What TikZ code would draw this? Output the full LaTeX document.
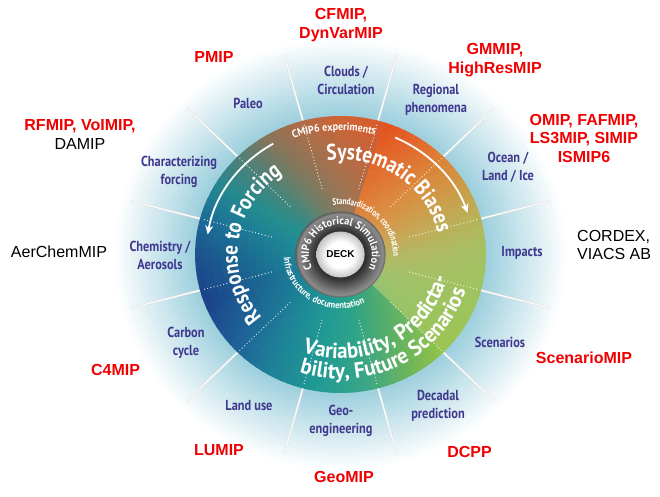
\documentclass[tikz,border=0pt]{standalone}
\usepackage{fontspec}
\setmainfont{Liberation Sans}
\newfontfamily\arialf{Liberation Sans}
\newfontfamily\cond[FakeStretch=0.85]{PT Sans}
\newfontfamily\cpA[FakeStretch=0.75]{PT Sans}
\newfontfamily\cpB[FakeStretch=0.9]{PT Sans}
\newfontfamily\cpC[FakeStretch=0.95]{PT Sans}
\usetikzlibrary{decorations.text,arrows.meta}

\definecolor{halo}{HTML}{9ED0DE}
\definecolor{sectblue}{HTML}{40388F}
\definecolor{mipr}{HTML}{F00000}
\definecolor{grA}{HTML}{2C2C2C}
\definecolor{grB}{HTML}{3A3A3A}
\definecolor{grC}{HTML}{767676}
\definecolor{grD}{HTML}{8C8C8C}
\definecolor{grE}{HTML}{5C5C5C}
\definecolor{dkE}{HTML}{C4C4C4}
% palette: co = edge colour, ci = inner colour
\definecolor{coA}{HTML}{DA5A2C}\definecolor{ciA}{HTML}{A07656}
\definecolor{coB}{HTML}{CE6434}\definecolor{ciB}{HTML}{8E7A5E}
\definecolor{coC}{HTML}{B26C46}\definecolor{ciC}{HTML}{7A7C64}
\definecolor{coD}{HTML}{8A7458}\definecolor{ciD}{HTML}{5C8470}
\definecolor{coE}{HTML}{4E8078}\definecolor{ciE}{HTML}{3A8A82}
\definecolor{coF}{HTML}{248890}\definecolor{ciF}{HTML}{24908E}
\definecolor{coG}{HTML}{1C6C98}\definecolor{ciG}{HTML}{1E8C94}
\definecolor{coH}{HTML}{1C528E}\definecolor{ciH}{HTML}{1C8696}
\definecolor{coI}{HTML}{1B428A}\definecolor{ciI}{HTML}{1C7E96}
\definecolor{coJ}{HTML}{1E5C98}\definecolor{ciJ}{HTML}{1C8496}
\definecolor{coK}{HTML}{1E8098}\definecolor{ciK}{HTML}{1E9096}
\definecolor{coL}{HTML}{209A94}\definecolor{ciL}{HTML}{209A94}
\definecolor{coM}{HTML}{3AA688}\definecolor{ciM}{HTML}{28A28A}
\definecolor{coN}{HTML}{70B658}\definecolor{ciN}{HTML}{3EA67A}
\definecolor{coO}{HTML}{94C448}\definecolor{ciO}{HTML}{4EAA74}
\definecolor{coP}{HTML}{9CC452}\definecolor{ciP}{HTML}{94C474}
\definecolor{coQ}{HTML}{9EC45E}\definecolor{ciQ}{HTML}{A4C06C}
\definecolor{coR}{HTML}{A4C264}\definecolor{ciR}{HTML}{B8B664}
\definecolor{coS}{HTML}{B6B45A}\definecolor{ciS}{HTML}{C8A85A}
\definecolor{coT}{HTML}{CC9C48}\definecolor{ciT}{HTML}{D29C4E}
\definecolor{coU}{HTML}{DC8236}\definecolor{ciU}{HTML}{DA9246}
\definecolor{coV}{HTML}{E4622A}\definecolor{ciV}{HTML}{DC8840}
\definecolor{coW}{HTML}{E4521F}\definecolor{ciW}{HTML}{DE8238}

\pgfdeclareradialshading{greyring}{\pgfpoint{0bp}{0bp}}{color(0bp)=(grA); color(13bp)=(grA); color(15bp)=(grB); color(21bp)=(grC); color(23.5bp)=(grD); color(25bp)=(grE); color(50bp)=(grE)}
\pgfdeclareradialshading{deckdisk}{\pgfpoint{0bp}{0bp}}{color(0bp)=(white); color(14bp)=(white); color(25bp)=(dkE); color(50bp)=(dkE)}

\tikzset{
  arctext/.style n args={3}{decorate, decoration={text along path, text align=center, text color=white, text={|#1\bfseries\fontsize{#2}{#2}\selectfont|#3}}},
  sect/.style={font=\cond\bfseries\fontsize{14.5}{18}\selectfont, text=sectblue, align=center, inner sep=0pt},
  mipred/.style={font=\arialf\bfseries\fontsize{16}{18.5}\selectfont, text=mipr, align=center, inner sep=0pt},
  mipblack/.style={font=\arialf\fontsize{16}{18.5}\selectfont, text=black, align=center, inner sep=0pt},
  outerline/.style={line width=2.2pt, black!12},
  outerlinein/.style={line width=1pt, white},
  dotline/.style={white, line width=1.3pt, line cap=round, dash pattern=on 0pt off 3.3pt, opacity=0.85},
  wheelarrow/.style={white, line width=1.8pt, -{Stealth[length=9pt,width=8pt]}},
}

\begin{document}
\begin{tikzpicture}[x=1pt,y=1pt]
\useasboundingbox (0,0) rectangle (660,496);
\fill[white] (0,0) rectangle (660,496);

\begin{scope}[shift={(340.5,241.5)},xscale=1.05]
  % halo
  \foreach \rr in {217,215,...,139}{
    \pgfmathtruncatemacro\hp{min(100,100*(217-\rr)/76)}
    \fill[halo!\hp!white] (0,0) circle[radius=\rr];
  }
  % outer divider lines
  \foreach \ang in {15,45,...,345}{
    \draw[outerline] (\ang:138) -- (\ang:207);
    \draw[outerlinein] (\ang:138) -- (\ang:207);
  }
  % coloured disk
  \begin{scope}
    \clip (0,0) circle[radius=138.5];
    \foreach \angA/\angB/\colOA/\colOB/\colIA/\colIB in {
      72/90/coA/coB/ciA/ciB, 90/105/coB/coC/ciB/ciC, 105/120/coC/coD/ciC/ciD,
      120/135/coD/coE/ciD/ciE, 135/150/coE/coF/ciE/ciF, 150/165/coF/coG/ciF/ciG,
      165/180/coG/coH/ciG/ciH, 180/200/coH/coI/ciH/ciI, 200/220/coI/coJ/ciI/ciJ,
      220/240/coJ/coK/ciJ/ciK, 240/260/coK/coL/ciK/ciL, 260/280/coL/coM/ciL/ciM,
      280/300/coM/coN/ciM/ciN, 300/315/coN/coO/ciN/ciO,
      315/340/coP/coQ/ciP/ciQ, 340/360/coQ/coR/ciQ/ciR, 360/375/coR/coS/ciR/ciS,
      375/390/coS/coT/ciS/ciT, 390/405/coT/coU/ciT/ciU, 405/420/coU/coV/ciU/ciV,
      420/432/coV/coW/ciV/ciW}{
      \pgfmathtruncatemacro\wN{max(1,round((\angB-\angA)/3))}
      \foreach \jj in {1,...,\wN}{
        \pgfmathtruncatemacro\wP{round(100*(\jj-0.5)/\wN)}
        \pgfmathsetmacro\wS{\angA+(\jj-1)*(\angB-\angA)/\wN}
        \pgfmathsetmacro\wE{\angA+\jj*(\angB-\angA)/\wN+0.5}
        \colorlet{wo}{\colOB!\wP!\colOA}
        \colorlet{wi}{\colIB!\wP!\colIA}
        \foreach \kk in {0,...,11}{
          \pgfmathtruncatemacro\bandpct{round(100*\kk/11)}
          \pgfmathsetmacro\rA{40+\kk*8.25}
          \pgfmathsetmacro\rB{\rA+8.8}
          \fill[wo!\bandpct!wi] (\wS:\rA) arc[start angle=\wS,end angle=\wE,radius=\rA]
            -- (\wE:\rB) arc[start angle=\wE,end angle=\wS,radius=\rB] -- cycle;
        }
      }
    }
  \end{scope}
  % dotted dividers inside the disk
  \foreach \ang in {15,45,...,345}{
    \draw[dotline] (\ang:68) -- (\ang:136);
  }
  % grey centre
  \shade[shading=greyring] (0,0) circle[radius=43];
  \shade[shading=deckdisk] (0,0) circle[radius=23];
  \node[font=\arialf\bfseries\fontsize{10}{10}\selectfont] (deck) at (0,0) {DECK};
  % curved texts
  \path[arctext={\cpB}{11}{CMIP6 experiments}] (153:124) arc[start angle=153,end angle=33,radius=124];
  \path[arctext={\cond}{22.5}{Systematic Biases}] (135:95) arc[start angle=135,end angle=-26,radius=95];
  \path[arctext={\cond}{22.5}{Response to Forcing}] (253:98) arc[start angle=253,end angle=92,radius=98];
  \path[arctext={\cpC}{22}{Variability, Predicta-}] (219:104) arc[start angle=219,end angle=379,radius=104];
  \path[arctext={\cpC}{22}{bility, Future Scenarios}] (218:124.5) arc[start angle=218,end angle=378,radius=124.5];
  \path[arctext={\cpA}{9.5}{Standardization, coordination}] (147.5:50) arc[start angle=147.5,end angle=-52.5,radius=50];
  \path[arctext={\cpB}{9.5}{Infrastructure, documentation}] (139:54) arc[start angle=139,end angle=339,radius=54];
  \path[arctext={\cpC}{11}{CMIP6 Historical Simulation}] (240:30) arc[start angle=240,end angle=-60,radius=30];
  % arrows
  \draw[wheelarrow] (120:128) arc[start angle=120,end angle=171,radius=128];
  \draw[wheelarrow] (66:128) arc[start angle=66,end angle=19,radius=128];
\end{scope}

% sector labels
\node[sect] (clouds) at (346,416) {Clouds /\\Circulation};
\node[sect] (regional) at (436,396) {Regional\\phenomena};
\node[sect] (ocean) at (508,329) {Ocean /\\Land / Ice};
\node[sect] (impacts) at (522,243) {Impacts};
\node[sect] (scen) at (500,154) {Scenarios};
\node[sect] (decadal) at (438,90.5) {Decadal\\prediction};
\node[sect] (geo) at (341,75) {Geo-\\engineering};
\node[sect] (landuse) at (249,90) {Land use};
\node[sect] (carbon) at (186,153) {Carbon\\cycle};
\node[sect] (chem) at (160,241) {Chemistry /\\Aerosols};
\node[sect] (charact) at (179,324) {Characterizing\\forcing};
\node[sect] (paleo) at (248,392.5) {Paleo};

% MIP labels
\node[mipred] (cfmip) at (341,471) {CFMIP,\\DynVarMIP};
\node[mipred] (pmip) at (214,439.5) {PMIP};
\node[mipred] (gmmip) at (495,436) {GMMIP,\\HighResMIP};
\node[mipred] (rfmip) at (80,361.5) {RFMIP, VoIMIP,\\\textcolor{black}{\mdseries DAMIP}};
\node[mipred] (omip) at (584,358) {OMIP, FAFMIP,\\LS3MIP, SIMIP\\ISMIP6};
\node[mipblack] (aerchem) at (59,244.3) {AerChemMIP};
\node[mipblack, anchor=west, align=left] (cordex) at (577,251) {CORDEX,\\VIACS AB};
\node[mipred] (c4mip) at (115.5,126) {C4MIP};
\node[mipred] (scenmip) at (584,138.7) {ScenarioMIP};
\node[mipred] (lumip) at (219,46) {LUMIP};
\node[mipred] (geomip) at (344,19.3) {GeoMIP};
\node[mipred] (dcpp) at (469.5,44.3) {DCPP};
\end{tikzpicture}
\end{document}
